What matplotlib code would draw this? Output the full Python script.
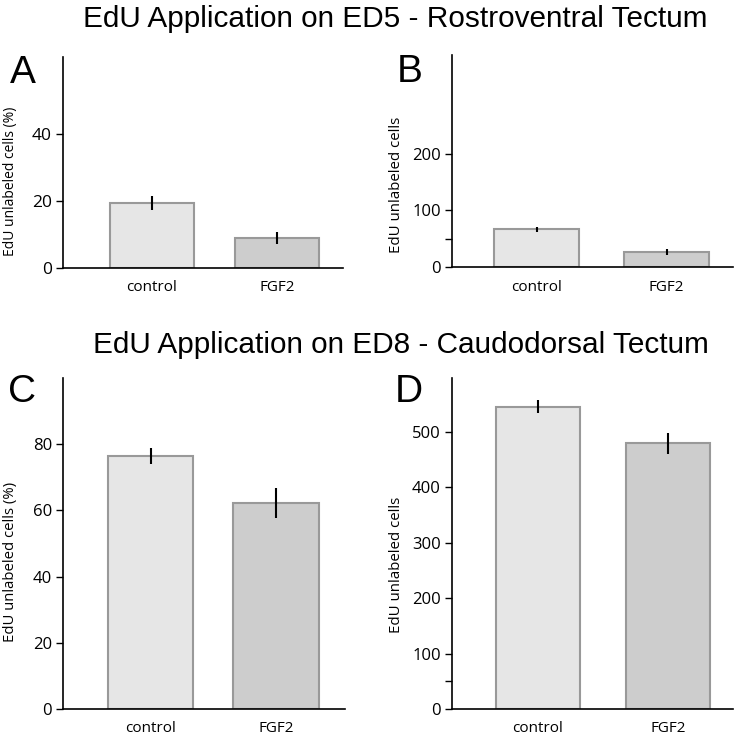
import matplotlib
matplotlib.use("Agg")
import matplotlib.pyplot as plt

groups = ["control", "FGF2"]

# panel A: ED5, percent
a_vals = [19.5, 9.0]
a_err = [2.1, 1.8]
# panel B: ED5, counts
b_vals = [66.5, 26.5]
b_err = [5.0, 5.0]
# panel C: ED8, percent
c_vals = [76.4, 62.3]
c_err = [2.5, 4.5]
# panel D: ED8, counts
d_vals = [545.0, 479.5]
d_err = [12.0, 19.0]

bar_colors = ["#e6e6e6", "#cdcdcd"]
tick_font = "Open Sans"
title_font = "Liberation Sans"

fig = plt.figure(figsize=(7.38, 7.39), dpi=100)


def panel(rect, vals, errs, ymax, yticks, minor, xlim, width, tick_size):
    ax = fig.add_axes(rect)
    x = range(len(groups))
    ax.bar(x, vals, width=width, color=bar_colors, edgecolor="#999999",
           linewidth=1.5, zorder=2)
    ax.errorbar(x, vals, yerr=errs, fmt="none", ecolor="black",
                elinewidth=1.5, capsize=0, zorder=3)
    ax.set_xlim(*xlim)
    ax.set_ylim(0, ymax)
    ax.set_yticks(yticks)
    ax.set_yticks(minor, minor=True)
    ax.set_xticks(list(x))
    ax.set_xticklabels(groups, fontfamily=tick_font, fontsize=11)
    ax.tick_params(axis="x", length=0, pad=9)
    ax.tick_params(axis="y", which="both", length=5, width=1, direction="out",
                   labelsize=tick_size, pad=3)
    for lab in ax.get_yticklabels():
        lab.set_fontfamily(tick_font)
    for s in ["top", "right"]:
        ax.spines[s].set_visible(False)
    for s in ["left", "bottom"]:
        ax.spines[s].set_linewidth(1.2)
        ax.spines[s].set_color("black")
    return ax


panel([0.0854, 0.6374, 0.3794, 0.2855], a_vals, a_err, 63, [0, 20, 40], [],
      (-0.71, 1.53), 0.67, 12.5)
panel([0.6125, 0.6387, 0.3807, 0.2869], b_vals, b_err, 375, [0, 100, 200], [50],
      (-0.65, 1.51), 0.65, 12)
panel([0.0854, 0.0406, 0.3820, 0.4479], c_vals, c_err, 100, [0, 20, 40, 60, 80], [],
      (-0.70, 1.55), 0.68, 12)
panel([0.6125, 0.0406, 0.3807, 0.4479], d_vals, d_err, 597,
      [0, 100, 200, 300, 400, 500], [50],
      (-0.66, 1.50), 0.65, 12)

# y labels
fig.text(11 / 738, 1 - 181 / 739, "EdU unlabeled cells (%)", rotation=90,
         ha="center", va="center", fontfamily=tick_font, fontsize=10)
fig.text(396 / 738, 1 - 185 / 739, "EdU unlabeled cells", rotation=90,
         ha="center", va="center", fontfamily=tick_font, fontsize=10.8)
fig.text(11 / 738, 1 - 562 / 739, "EdU unlabeled cells (%)", rotation=90,
         ha="center", va="center", fontfamily=tick_font, fontsize=10.7)
fig.text(397 / 738, 1 - 565 / 739, "EdU unlabeled cells", rotation=90,
         ha="center", va="center", fontfamily=tick_font, fontsize=10.8)

# titles
fig.text(395 / 738, 1 - 27 / 739, "EdU Application on ED5 - Rostroventral Tectum",
         ha="center", va="baseline", fontfamily=title_font, fontsize=21.4)
fig.text(401 / 738, 1 - 353 / 739, "EdU Application on ED8 - Caudodorsal Tectum",
         ha="center", va="baseline", fontfamily=title_font, fontsize=21.4)

# panel letters
for letter, px, py in [("A", 10, 83), ("B", 397, 82), ("C", 8, 402), ("D", 395, 402)]:
    fig.text(px / 738, 1 - py / 739, letter, ha="left", va="baseline",
             fontfamily=title_font, fontsize=28)

fig.savefig("out.png", dpi=100)
